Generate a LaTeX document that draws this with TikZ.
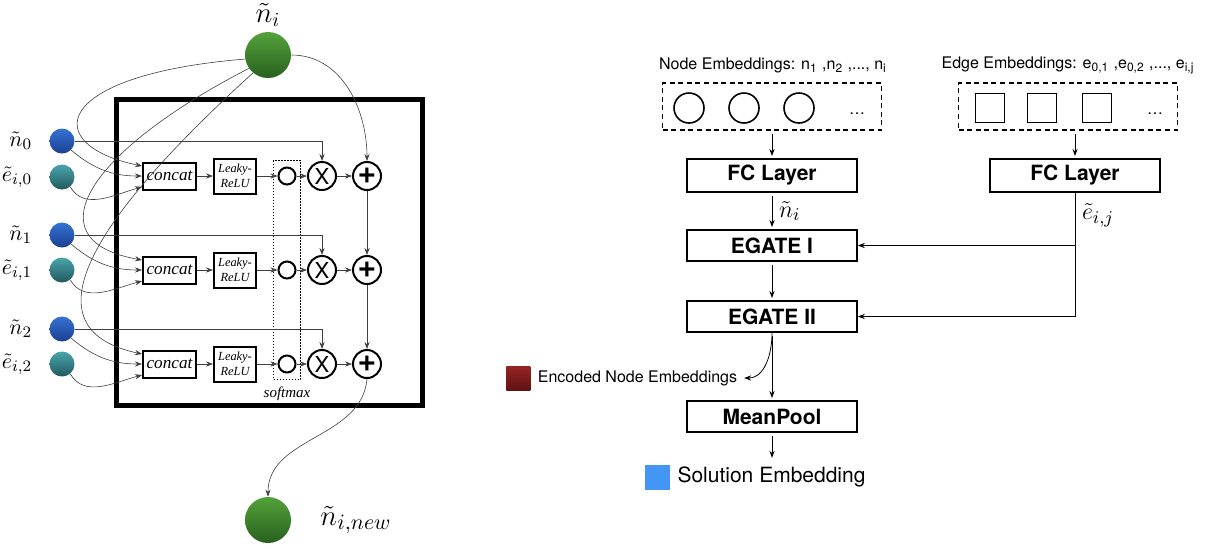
\documentclass[tikz,border=0pt]{standalone}
\usepackage{amsmath, amssymb}
\usepackage{fontspec}
\setmainfont{Liberation Serif}
\setsansfont{TeX Gyre Heros}
\usepackage{tikz}
\usetikzlibrary{arrows.meta, positioning, fit}
\definecolor{verdeA}{RGB}{84,162,58}
\definecolor{verdeB}{RGB}{40,96,30}
\definecolor{azulA}{RGB}{52,114,210}
\definecolor{azulB}{RGB}{28,64,146}
\definecolor{turqA}{RGB}{74,164,170}
\definecolor{turqB}{RGB}{32,90,96}
\definecolor{rojoA}{RGB}{150,36,36}
\definecolor{rojoB}{RGB}{96,18,18}
\definecolor{celeste}{RGB}{68,150,245}

\begin{document}
\begin{tikzpicture}[x=0.5pt, y=0.5pt,
        bola/.style={circle, inner sep=0pt, minimum size=12.5pt},
        verde/.style={bola, minimum size=23pt, top color=verdeA, bottom color=verdeB},
        azul/.style={bola, top color=azulA, bottom color=azulB},
        turq/.style={bola, top color=turqA, bottom color=turqB},
        etq/.style={font=\fontsize{11}{13}\selectfont},
        caja/.style={draw, line width=1pt, inner sep=0pt, align=center},
        cat/.style={caja, minimum width=26.5pt, minimum height=13.5pt, font=\itshape\fontsize{8.6}{10}\selectfont},
        relu/.style={caja, minimum width=21pt, minimum height=17.5pt, font=\itshape\fontsize{6.2}{7.5}\selectfont},
        op/.style={circle, draw, line width=1pt, inner sep=0pt, minimum size=14pt},
        por/.style={op, font=\sffamily\fontsize{11}{11}\selectfont},
        mas/.style={op, font=\sffamily\bfseries\fontsize{16}{16}\selectfont},
        capa/.style={draw, thick, minimum width=85pt, minimum height=15.7pt, font=\sffamily\bfseries\fontsize{10.5}{12}\selectfont},
        lista/.style={draw, line width=0.9pt, dash pattern=on 2.5pt off 1.8pt, minimum width=109.5pt, minimum height=23.5pt},
        texto/.style={font=\sffamily\fontsize{8}{10}\selectfont},
        flecha/.style={->, >={Stealth[length=3.5pt, width=2.6pt]}},
        fina/.style={flecha, line width=0.3pt, black!75},
        baja/.style={flecha, shorten <=1.5pt, shorten >=1pt}]
    \useasboundingbox (0,0) rectangle (1215,-548);
    \node[draw, line width=2.5pt, minimum width=152.75pt, minimum height=152.75pt] (blk) at (269.25,-252.25) {};
    \node[verde] (ni) at (268,-55) {};
    \node[above=-1pt of ni, font=\fontsize{14}{16}\selectfont] (lni) {$\tilde{n}_i$};
    \node[verde] (nnew) at (268,-520) {};
    \node[right=11pt of nnew, font=\fontsize{15}{17}\selectfont] (lnnew) {$\tilde{n}_{i,new}$};

    \node[azul] (n0) at (62,-141) {};
    \node[etq, left=5pt of n0] (ln0) {$\tilde{n}_0$};
    \node[turq] (e0) at (62,-177) {};
    \node[etq, left=5pt of e0] (le0) {$\tilde{e}_{i,0}$};
    \node[cat] (ca) at (169.5,-176) {concat};
    \node[relu] (la) at (235,-176) {Leaky-\\ReLU};
    \node[op, minimum size=8.5pt] (sa) at (287,-176) {};
    \node[por] (ma) at (322,-176) {X};
    \node[mas] (pa) at (367,-176) {+};

    \node[azul] (n1) at (62,-235) {};
    \node[etq, left=5pt of n1] (ln1) {$\tilde{n}_1$};
    \node[turq] (e1) at (62,-270) {};
    \node[etq, left=5pt of e1] (le1) {$\tilde{e}_{i,1}$};
    \node[cat] (cb) at (169.5,-270) {concat};
    \node[relu] (lb) at (235,-270) {Leaky-\\ReLU};
    \node[op, minimum size=8.5pt] (sb) at (287,-270) {};
    \node[por] (mb) at (322,-270) {X};
    \node[mas] (pb) at (367,-270) {+};

    \node[azul] (n2) at (62,-329) {};
    \node[etq, left=5pt of n2] (ln2) {$\tilde{n}_2$};
    \node[turq] (e2) at (62,-364) {};
    \node[etq, left=5pt of e2] (le2) {$\tilde{e}_{i,2}$};
    \node[cat] (cc) at (169.5,-364) {concat};
    \node[relu] (lc) at (235,-364) {Leaky-\\ReLU};
    \node[op, minimum size=8.5pt] (sc) at (287,-364) {};
    \node[por] (mc) at (322,-364) {X};
    \node[mas] (pc) at (367,-364) {+};

    \node[draw, line width=0.6pt, dash pattern=on 0.6pt off 0.9pt, fit=(sa)(sc), inner xsep=2pt, inner ysep=3pt] (smx) {};
    \node[below=0pt of smx, font=\itshape\fontsize{7.5}{9}\selectfont] (lsmx) {softmax};

    \draw[fina] (n0) -| (ma);
    \draw[fina] (n0.-45) to[out=-40, in=180] (ca.west);
    \draw[fina] (e0.-50) to[out=-60, in=195] ([yshift=-5.5pt]ca.west);
    \draw[fina] (ca) -- (la);
    \draw[fina] (la) -- (sa);
    \draw[fina] (sa) -- (ma);
    \draw[fina] (ma) -- (pa);
    \draw[fina] (n1) -| (mb);
    \draw[fina] (n1.-45) to[out=-40, in=180] (cb.west);
    \draw[fina] (e1.-50) to[out=-60, in=195] ([yshift=-5.5pt]cb.west);
    \draw[fina] (cb) -- (lb);
    \draw[fina] (lb) -- (sb);
    \draw[fina] (sb) -- (mb);
    \draw[fina] (mb) -- (pb);
    \draw[fina] (n2) -| (mc);
    \draw[fina] (n2.-45) to[out=-40, in=180] (cc.west);
    \draw[fina] (e2.-50) to[out=-60, in=195] ([yshift=-5.5pt]cc.west);
    \draw[fina] (cc) -- (lc);
    \draw[fina] (lc) -- (sc);
    \draw[fina] (sc) -- (mc);
    \draw[fina] (mc) -- (pc);
    \draw[fina] (ni.190) .. controls (50,-75) and (40,-145) .. ([yshift=5pt]ca.west);
    \draw[fina] (ni.215) .. controls (90,-150) and (30,-240) .. ([yshift=5pt]cb.west);
    \draw[fina] (ni.230) .. controls (80,-230) and (30,-330) .. ([yshift=5pt]cc.west);
    \draw[fina] (ni.east) to[out=0, in=90] (pa.north);
    \draw[fina] (pa) -- (pb);
    \draw[fina] (pb) -- (pc);
    \draw[fina] (pc.south) to[out=-95, in=90] (nnew.north);

    \node[texto] (tn) at (773,-65) {Node Embeddings: n\textsubscript{1} ,n\textsubscript{2} ,..., n\textsubscript{i}};
    \node[lista] (nemb) at (772,-106.5) {};
    \node[circle, draw, line width=0.8pt, minimum size=15pt] (c1) at (689,-108) {};
    \node[circle, draw, line width=0.8pt, minimum size=15pt] (c2) at (744,-108) {};
    \node[circle, draw, line width=0.8pt, minimum size=15pt] (c3) at (799,-108) {};
    \node[texto] (pn) at (857,-114) {\dots};
    \node[texto] (te) at (1068,-65) {Edge Embeddings: e\textsubscript{0,1} ,e\textsubscript{0,2} ,..., e\textsubscript{i,j}};
    \node[lista] (eemb) at (1068,-106.5) {};
    \node[draw, line width=0.8pt, minimum size=14.5pt] (q1) at (990,-108) {};
    \node[draw, line width=0.8pt, minimum size=14.5pt] (q2) at (1042,-108) {};
    \node[draw, line width=0.8pt, minimum size=14.5pt] (q3) at (1097,-108) {};
    \node[texto] (pe) at (1155,-114) {\dots};

    \node[capa] (fcn) at (772,-175.5) {FC Layer};
    \node[capa] (fce) at (1075,-175.5) {FC Layer};
    \node[capa] (eg1) at (772,-245.5) {EGATE I};
    \node[capa] (eg2) at (772,-316.5) {EGATE II};
    \node[capa] (mp) at (772,-416.5) {MeanPool};
    \node[texto] (enc) at (637.5,-378) {Encoded Node Embeddings};
    \node[left=0pt of enc, minimum size=12pt, inner sep=0pt, top color=rojoA, bottom color=rojoB] (rojo) {};
    \node[font=\sffamily\fontsize{10.5}{12}\selectfont] (sol) at (771.5,-477) {Solution Embedding};
    \node[left=0pt of sol, minimum size=12.5pt, inner sep=0pt, fill=celeste] (azulsq) {};

    \draw[baja] (nemb) -- (fcn);
    \draw[baja] (eemb.south -| fce.north) -- (fce.north);
    \draw[baja] (fcn) -- node[right, font=\fontsize{13}{15}\selectfont] {$\tilde{n}_i$} (eg1);
    \draw[baja] (eg1) -- (eg2);
    \draw[baja] (eg2) -- (mp);
    \draw[flecha] (fce.south) |- node[pos=0.09, right, font=\fontsize{13}{15}\selectfont] {$\tilde{e}_{i,j}$} (eg2.east);
    \draw[flecha] (fce.south |- eg1.east) -- (eg1.east);
    \draw[flecha] (eg2.south) to[out=-90, in=0] (enc.east);
    \draw[baja] (mp.south) -- (mp.south |- sol.north);
\end{tikzpicture}
\end{document}
